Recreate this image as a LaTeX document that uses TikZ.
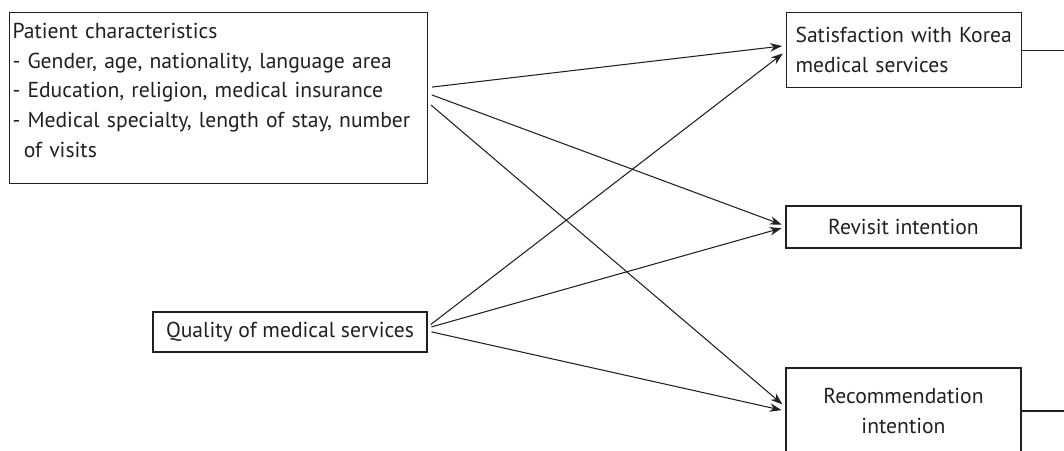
\documentclass[tikz,border=0pt]{standalone}
\usepackage{fontspec}
\setmainfont{PT Sans}
\usepackage{xcolor}
\usepackage{tikz}
\usetikzlibrary{arrows.meta, positioning}
\definecolor{ink}{HTML}{231F20}

\begin{document}
\begin{tikzpicture}[line width=0.6pt, draw=ink, text=ink,
    box/.style={draw=ink, rectangle, font=\fontsize{12.3}{17}\selectfont},
    link/.style={draw=ink, -{Stealth[length=2.4mm, width=1.7mm]}, shorten <=0.08cm, shorten >=0.08cm}]
    \clip (0,0) rectangle (21.28,-9);

    % Left side: the two groups of factors
    \node[box, anchor=north west, text width=8.24cm, inner xsep=0.06cm, minimum height=3.42cm, align=left] (Patient) at (0.18,-0.24)
        {Patient characteristics\\
         - Gender, age, nationality, language area\\
         - Education, religion, medical insurance\\
         - Medical specialty, length of stay, number\\
         \phantom{-}\,of visits\rule[-0.31cm]{0pt}{0.1cm}};
    \node[box, minimum width=5.48cm, minimum height=0.8cm] (Quality) at (5.8,-6.64) {Quality of medical services};

    % Right side: outcomes
    \node[box, anchor=north west, text width=4.34cm, inner xsep=0.18cm, minimum height=1.5cm, align=left] (Satisf) at (15.72,-0.24)
        {Satisfaction with Korea\\ medical services};
    \node[box, minimum width=4.7cm, minimum height=0.84cm] (Revisit) at (18.07,-4.54) {Revisit intention};
    \node[box, minimum width=4.7cm, minimum height=1.72cm, align=center] (Recomm) at (18.07,-8.22) {Recommendation\\ intention};
    \coordinate (Edge) at (21.5,0);

    \draw[link] ([yshift=0.21cm]Patient.east) -- ([yshift=0.09cm]Satisf.west);
    \draw[link] ([yshift=0.09cm]Patient.east) -- ([yshift=0.02cm]Revisit.west);
    \draw[link] ([yshift=-0.09cm]Patient.east) -- ([yshift=0.08cm]Recomm.west);

    \draw[link] ([yshift=0.1cm]Quality.east) -- ([yshift=-0.02cm]Satisf.west);
    \draw[link] ([yshift=0.08cm]Quality.east) -- (Revisit.west);
    \draw[link] ([yshift=0.02cm]Quality.east) -- (Recomm.west);

    \draw (Satisf.east) -- (Satisf.east -| Edge);
    \draw (Recomm.east) -- (Recomm.east -| Edge);
\end{tikzpicture}
\end{document}
